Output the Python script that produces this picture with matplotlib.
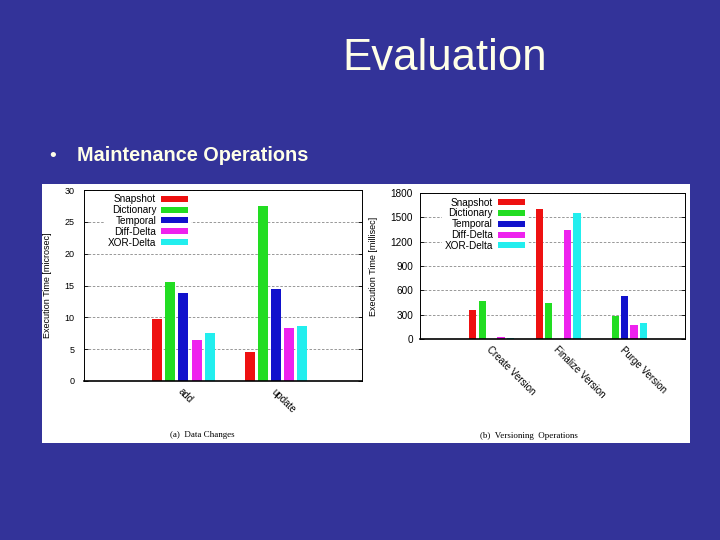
import matplotlib.pyplot as plt
from matplotlib.patches import Rectangle
import numpy as np

# slide: "Evaluation" / maintenance operations, two gnuplot-style bar charts
series = ["Snapshot", "Dictionary", "Temporal", "Diff-Delta", "XOR-Delta"]
colors = ["#ee1111", "#22dd22", "#1111cc", "#ee22ee", "#22eeee"]

data_ops = ["add", "update"]
snapshot_a = [9.7, 4.6]
dictionary_a = [15.5, 27.5]
temporal_a = [13.9, 14.4]
diffdelta_a = [6.5, 8.4]
xordelta_a = [7.6, 8.7]

version_ops = ["Create Version", "Finalize Version", "Purge Version"]
snapshot_b = [357, 1599, 0]
dictionary_b = [471, 443, 287]
temporal_b = [5, 5, 529]
diffdelta_b = [25, 1341, 176]
xordelta_b = [8, 1550, 197]

slide_blue = "#333399"
plt.rcParams["font.family"] = ["Liberation Sans", "DejaVu Sans"]

fig = plt.figure(figsize=(7.2, 5.4), dpi=100, facecolor=slide_blue)

# white panel holding the pasted figure
fig.patches.append(Rectangle((42 / 720, 1 - 443 / 540), 648 / 720, 259 / 540,
                             transform=fig.transFigure, facecolor="white",
                             edgecolor="none", zorder=-5))

fig.text(445 / 720, 1 - 70 / 540, "Evaluation", color="#ffffe8", fontsize=31.5,
         ha="center", va="baseline")
fig.text(49 / 720, 1 - 161 / 540, "\u2022", color="#ffffe8", fontsize=14,
         ha="left", va="baseline")
fig.text(77 / 720, 1 - 161 / 540, "Maintenance Operations", color="#ffffe8",
         fontsize=14.3, fontweight="bold", ha="left", va="baseline")


def bar_panel(ax, cats, values, xlim, ylim, yticks, width, step, ylabel, ylab_x,
              tick_pad, tick_size, key_anchor):
    x = np.arange(len(cats))
    for i, (name, vals, col) in enumerate(zip(series, values, colors)):
        ax.bar(x + (i - 2) * step, vals, width, color=col, label=name, zorder=2)
    ax.set_xlim(*xlim)
    ax.set_ylim(*ylim)
    ax.set_yticks(yticks)
    ax.set_xticks(x)
    ax.set_xticklabels(cats, rotation=-45, ha="left", va="top",
                       rotation_mode="anchor", fontsize=7)
    ax.tick_params(axis="y", direction="in", length=3, labelsize=tick_size, pad=tick_pad,
                   right=True, width=0.6)
    ax.tick_params(axis="x", length=0, pad=4)
    ax.grid(axis="y", color="#888888", linestyle=(0, (3, 2)), linewidth=0.6, zorder=1)
    for s in ax.spines.values():
        s.set_linewidth(0.7)
    ax.spines["bottom"].set_linewidth(1.2)
    ax.set_ylabel(ylabel, fontsize=6.5, va="center")
    ax.yaxis.set_label_coords(ylab_x, 0.5)
    leg = ax.legend(loc="upper right", bbox_to_anchor=key_anchor, markerfirst=False,
                    fontsize=7.2, frameon=True, framealpha=1, edgecolor="white",
                    handlelength=2.7, handleheight=0.55, labelspacing=0.08,
                    handletextpad=0.5, borderpad=0.25, borderaxespad=0, fancybox=False)
    leg.get_frame().set_linewidth(0)
    for t in leg.get_texts():
        t.set_ha("right")
    leg._legend_box.align = "right"


ax1 = fig.add_axes([84 / 720, 1 - 381 / 540, 278 / 720, 191 / 540])
bar_panel(ax1, data_ops,
          [snapshot_a, dictionary_a, temporal_a, diffdelta_a, xordelta_a],
          (-1.072, 1.924), (0, 30), range(0, 31, 5), 0.108, 0.141,
          "Execution Time [microsec]", -0.13, 7, 6.5, (0.384, 0.99))

ax2 = fig.add_axes([420 / 720, 1 - 339 / 540, 265 / 720, 146 / 540])
bar_panel(ax2, version_ops,
          [snapshot_b, dictionary_b, temporal_b, diffdelta_b, xordelta_b],
          (-1.078, 2.907), (0, 1800), range(0, 1801, 300), 0.11, 0.142,
          "Execution Time [millisec]", -0.177, 5, 7.2, (0.406, 0.985))

fig.text(202 / 720, 1 - 435 / 540, "(a)  Data Changes", family="Liberation Serif",
         fontsize=6.5, ha="center", va="center")
fig.text(529 / 720, 1 - 436 / 540, "(b)  Versioning  Operations", family="Liberation Serif",
         fontsize=6.5, ha="center", va="center")

fig.savefig("out.png", dpi=100, facecolor=slide_blue)
